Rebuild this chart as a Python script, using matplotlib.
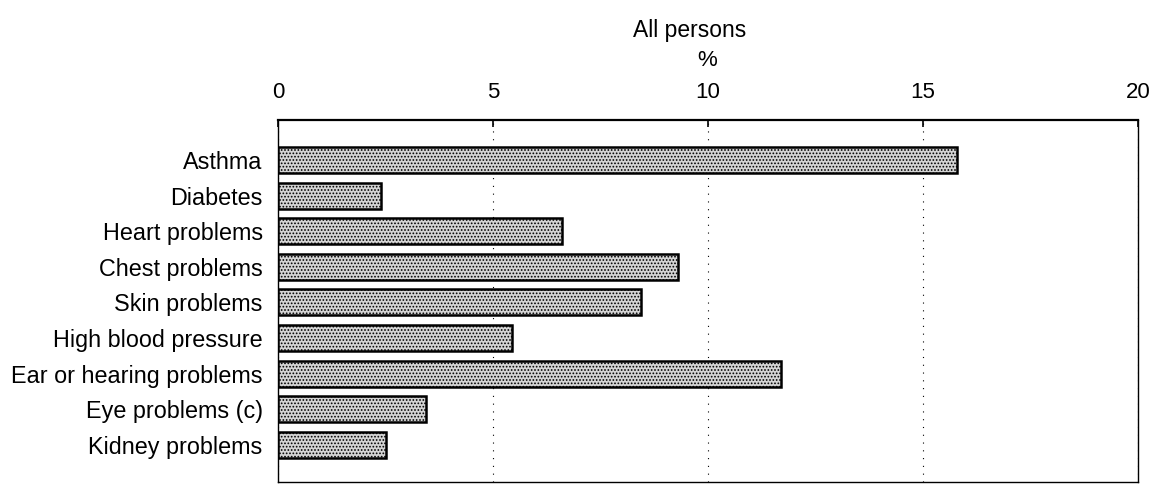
import matplotlib
matplotlib.use("Agg")
import matplotlib.pyplot as plt

categories = ["Asthma", "Diabetes", "Heart problems", "Chest problems", "Skin problems",
              "High blood pressure", "Ear or hearing problems", "Eye problems (c)", "Kidney problems"]
values = [15.8, 2.4, 6.6, 9.3, 8.45, 5.45, 11.7, 3.45, 2.5]
xticks = [0, 5, 10, 15, 20]

plt.rcParams['font.family'] = ['Liberation Sans', 'DejaVu Sans']
plt.rcParams['hatch.color'] = '#5a5a5a'
plt.rcParams['hatch.linewidth'] = 0.8
fig = plt.figure(figsize=(11.54, 4.84), dpi=100)
ax = fig.add_axes([278/1154, 2/484, (1138-278)/1154, (482-120)/484])

y = list(range(len(categories)))
ax.barh(y, values, height=0.73, color='#d4d4d4', edgecolor='black', linewidth=1.8,
        hatch='.....', zorder=3)
ax.set_xlim(0, 20)
ax.set_ylim(8 + 1.04, -1.12)
ax.set_yticks(y)
ax.set_yticklabels(categories, fontsize=16.8)
ax.set_xticks(xticks)
ax.set_xticklabels([str(t) for t in xticks], fontsize=16)
ax.xaxis.tick_top()
ax.tick_params(axis='x', direction='in', length=5, width=1.2, pad=12)
ax.tick_params(axis='y', length=0, pad=11)
ax.grid(axis='x', color='black', linestyle=(0, (1, 6)), linewidth=0.8, zorder=0)
for s in ax.spines.values():
    s.set_linewidth(1.0)
ax.spines['top'].set_linewidth(1.6)
fig.text(690/1154, 1 - 30/484, "All persons", ha='center', va='center', fontsize=16.5)
fig.text(707/1154, 1 - 60/484, "%", ha='center', va='center', fontsize=16)
fig.savefig("out.png", dpi=100)
